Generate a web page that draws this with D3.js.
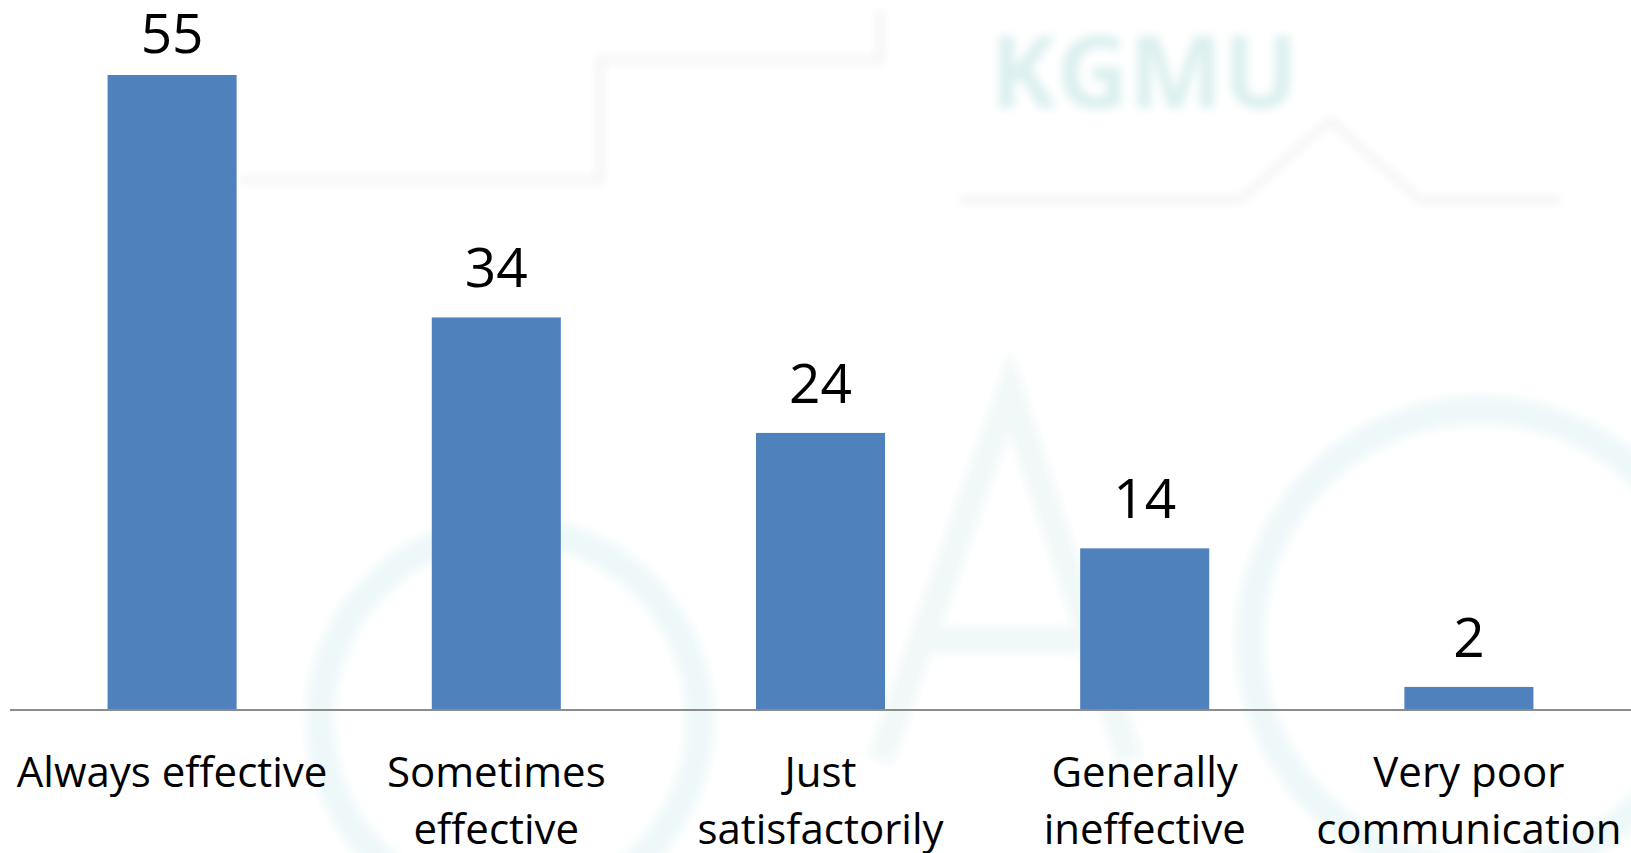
<!DOCTYPE html>
<html>
<head>
<meta charset="utf-8">
<script src="https://cdn.jsdelivr.net/npm/d3@7"></script>
<style>
  body { margin: 0; background: #fff; }
  svg { display: block; }
  text { font-family: "Open Sans", sans-serif; fill: #000; }
</style>
</head>
<body>
<div id="chart"></div>
<script>
const categories = ["Always effective", "Sometimes effective", "Just satisfactorily", "Generally ineffective", "Very poor communication"];
const values = [55, 34, 24, 14, 2];

const width = 1631, height = 853;
const axisY = 710, plotTop = 75;

const svg = d3.select('#chart')
    .append('svg')
    .attr('width', width)
    .attr('height', height);

// faint watermark behind the chart
const defs = svg.append('defs');
defs.append('filter').attr('id', 'soft')
    .append('feGaussianBlur').attr('stdDeviation', 5);

const wm = svg.append('g').attr('filter', 'url(#soft)');
wm.append('text')
    .attr('x', 990).attr('y', 108)
    .attr('font-size', 100)
    .attr('font-weight', 'bold')
    .style('fill', '#dcefef')
    .text('KGMU');
[[510, 720, 190], [1480, 640, 230]].forEach(c => {
    wm.append('circle')
        .attr('cx', c[0]).attr('cy', c[1]).attr('r', c[2])
        .attr('fill', 'none')
        .attr('stroke', '#eef8f9')
        .attr('stroke-width', 28);
});
wm.append('path')
    .attr('d', 'M880,760 L1010,390 L1130,760 M930,640 L1080,640')
    .attr('fill', 'none')
    .attr('stroke', '#f1f8f8')
    .attr('stroke-width', 26);
wm.append('path')
    .attr('d', 'M240,180 L600,180 L600,60 L880,60 L880,10 M960,200 L1240,200 L1330,120 L1420,200 L1560,200')
    .attr('fill', 'none')
    .attr('stroke', '#efefef')
    .attr('stroke-width', 5);

const x = d3.scaleBand()
    .domain(categories)
    .range([10, width])
    .paddingInner(0.602)
    .paddingOuter(0.301);

const y = d3.scaleLinear()
    .domain([0, 55])
    .range([axisY, plotTop]);

const data = categories.map((c, i) => ({label: c, value: values[i]}));

svg.append('g').selectAll('rect')
    .data(data)
    .enter()
    .append('rect')
    .attr('x', d => x(d.label))
    .attr('y', d => y(d.value))
    .attr('width', x.bandwidth())
    .attr('height', d => axisY - y(d.value))
    .attr('fill', '#4F81BD');

// axis line
svg.append('line')
    .attr('x1', x.range()[0])
    .attr('x2', x.range()[1])
    .attr('y1', axisY)
    .attr('y2', axisY)
    .attr('stroke', '#8c8c8c')
    .attr('stroke-width', 2);

// value labels
svg.append('g').selectAll('text')
    .data(data)
    .enter()
    .append('text')
    .attr('x', d => x(d.label) + x.bandwidth() / 2)
    .attr('y', d => Math.max(y(d.value) - 30, 53))
    .attr('text-anchor', 'middle')
    .attr('font-size', 55)
    .text(d => d.value);

// category labels, wrapped to the band step
const lineH = 57, maxW = x.step() - 6;
const labels = svg.append('g').selectAll('text')
    .data(data)
    .enter()
    .append('text')
    .attr('text-anchor', 'middle')
    .attr('font-size', 42)
    .attr('y', 787);

labels.each(function(d) {
    const t = d3.select(this);
    const cx = x(d.label) + x.bandwidth() / 2;
    const words = d.label.split(' ');
    let line = [];
    let tspan = t.append('tspan').attr('x', cx).attr('dy', 0);
    words.forEach(w => {
        line.push(w);
        tspan.text(line.join(' '));
        if (tspan.node().getComputedTextLength() > maxW && line.length > 1) {
            line.pop();
            tspan.text(line.join(' '));
            line = [w];
            tspan = t.append('tspan').attr('x', cx).attr('dy', lineH).text(w);
        }
    });
});
</script>
</body>
</html>
